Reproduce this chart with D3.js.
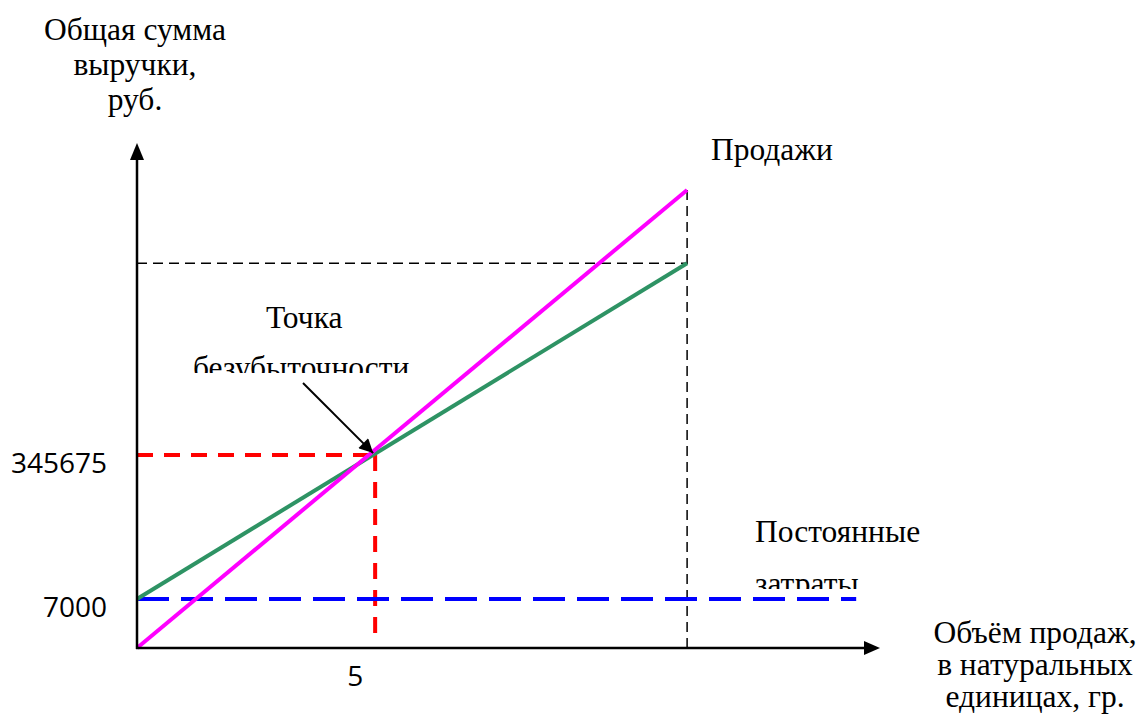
<!DOCTYPE html>
<html>
<head>
<meta charset="utf-8">
<script src="https://cdn.jsdelivr.net/npm/d3@7"></script>
<style>
  body { margin: 0; background: #fff; }
</style>
</head>
<body>
<div id="chart"></div>
<script>
// values (schematic units)
var volume = [0, 11.55]
var salesRevenue = [0, 90.7]
var totalCosts = [9.7, 76.2]
var fixedVolume = [0, 15.1]
var fixedCosts = [9.7, 9.7]
var breakEvenVolume = 5
var breakEvenValue = 38.2

var yTickValues = [9.7, 38.2]
var yTickLabels = ['7000', '345675']
var xTickValues = [5]
var xTickLabels = ['5']

var width = 1141, height = 717
var serifFont = 'Liberation Serif'
var sansFont = 'Open Sans'

var x = d3.scaleLinear().domain([0, 15.6]).range([137, 880])
var y = d3.scaleLinear().domain([0, 100]).range([648, 143])

var svg = d3.select('#chart')
  .append('svg')
  .attr('width', width)
  .attr('height', height)

var line = d3.line()
  .x(function(d) {return x(d[0])})
  .y(function(d) {return y(d[1])})

function pairs(xs, ys) {
  return xs.map(function(v, i) {return [v, ys[i]]})
}

// black dashed guides at the end of the sales range
svg.append('path')
  .attr('d', line([[0, totalCosts[1]], [volume[1], totalCosts[1]]]))
  .attr('stroke', '#000').attr('stroke-width', 1.5)
  .attr('stroke-dasharray', '10,6').attr('fill', 'none')
svg.append('path')
  .attr('d', line([[volume[1], salesRevenue[1]], [volume[1], 0]]))
  .attr('stroke', '#000').attr('stroke-width', 1.5)
  .attr('stroke-dasharray', '10,6').attr('fill', 'none')

// red dashed break-even guides
svg.append('path')
  .attr('d', line([[0, breakEvenValue], [breakEvenVolume, breakEvenValue]]))
  .attr('stroke', '#ff0000').attr('stroke-width', 4)
  .attr('stroke-dasharray', '16,11').attr('fill', 'none')
svg.append('path')
  .attr('d', 'M' + x(breakEvenVolume) + ',' + y(breakEvenValue) + 'V' + (y(0) - 8))
  .attr('stroke', '#ff0000').attr('stroke-width', 4)
  .attr('stroke-dasharray', '16,11').attr('fill', 'none')

// fixed costs
svg.append('path')
  .attr('d', line(pairs(fixedVolume, fixedCosts)))
  .attr('stroke', '#0000ff').attr('stroke-width', 4)
  .attr('stroke-dasharray', '32,12').attr('fill', 'none')

// total costs
svg.append('path')
  .attr('d', line(pairs(volume, totalCosts)))
  .attr('stroke', '#2e9364').attr('stroke-width', 4).attr('fill', 'none')

// sales
svg.append('path')
  .attr('d', line(pairs(volume, salesRevenue)))
  .attr('stroke', '#ff00ff').attr('stroke-width', 4).attr('fill', 'none')

// axes with arrows
var x0 = x(0), y0 = y(0)
svg.append('line')
  .attr('x1', x0).attr('y1', y0 + 1).attr('x2', x0).attr('y2', 158)
  .attr('stroke', '#000').attr('stroke-width', 2.5)
svg.append('path')
  .attr('d', 'M' + x0 + ',143L' + (x0 - 7) + ',160L' + (x0 + 7) + ',160Z')
  .attr('fill', '#000')
svg.append('line')
  .attr('x1', x0 - 1).attr('y1', y0).attr('x2', 866).attr('y2', y0)
  .attr('stroke', '#000').attr('stroke-width', 2.5)
svg.append('path')
  .attr('d', 'M880,' + y0 + 'L864,' + (y0 - 7) + 'L864,' + (y0 + 7) + 'Z')
  .attr('fill', '#000')

// tick labels
svg.selectAll('.ytick')
  .data(yTickValues)
  .enter()
  .append('text')
  .attr('x', 107)
  .attr('y', function(d) {return y(d) + 18})
  .attr('text-anchor', 'end')
  .attr('font-family', sansFont).attr('font-size', 28)
  .text(function(d, i) {return yTickLabels[i]})

svg.selectAll('.xtick')
  .data(xTickValues)
  .enter()
  .append('text')
  .attr('x', function(d) {return x(d) - 20})
  .attr('y', 686)
  .attr('text-anchor', 'middle')
  .attr('font-family', sansFont).attr('font-size', 28)
  .text(function(d, i) {return xTickLabels[i]})

// break-even pointer
svg.append('defs').append('marker')
  .attr('id', 'head')
  .attr('viewBox', '0 0 10 10')
  .attr('refX', 10).attr('refY', 5)
  .attr('markerWidth', 18).attr('markerHeight', 14)
  .attr('markerUnits', 'userSpaceOnUse')
  .attr('orient', 'auto')
  .append('path').attr('d', 'M0,0L10,5L0,10Z')
svg.append('line')
  .attr('x1', 303).attr('y1', 383)
  .attr('x2', x(breakEvenVolume) - 2).attr('y2', y(breakEvenValue) - 2)
  .attr('stroke', '#000').attr('stroke-width', 2)
  .attr('marker-end', 'url(#head)')

// clip paths for the half-hidden labels
var defs = svg.select('defs')
defs.append('clipPath').attr('id', 'clip1')
  .append('rect').attr('x', 150).attr('y', 340).attr('width', 300).attr('height', 33)
defs.append('clipPath').attr('id', 'clip2')
  .append('rect').attr('x', 740).attr('y', 560).attr('width', 200).attr('height', 29)

function label(t, lx, ly, anchor) {
  return svg.append('text')
    .attr('x', lx).attr('y', ly)
    .attr('text-anchor', anchor || 'start')
    .attr('font-family', serifFont).attr('font-size', 31.5)
    .text(t)
}

;['Общая сумма', 'выручки,', 'руб.'].forEach(function(t, i) {
  label(t, 135, 40 + i * 35, 'middle')
})
;['Объём продаж,', 'в натуральных', 'единицах, гр.'].forEach(function(t, i) {
  label(t, 1035, 643 + i * 32, 'middle')
})

label('Продажи', 711, 160)
label('Точка', 266, 328)
label('безубыточности', 193, 378).attr('clip-path', 'url(#clip1)')
label('Постоянные', 755, 542)
label('затраты', 755, 594).attr('clip-path', 'url(#clip2)')
</script>
</body>
</html>
